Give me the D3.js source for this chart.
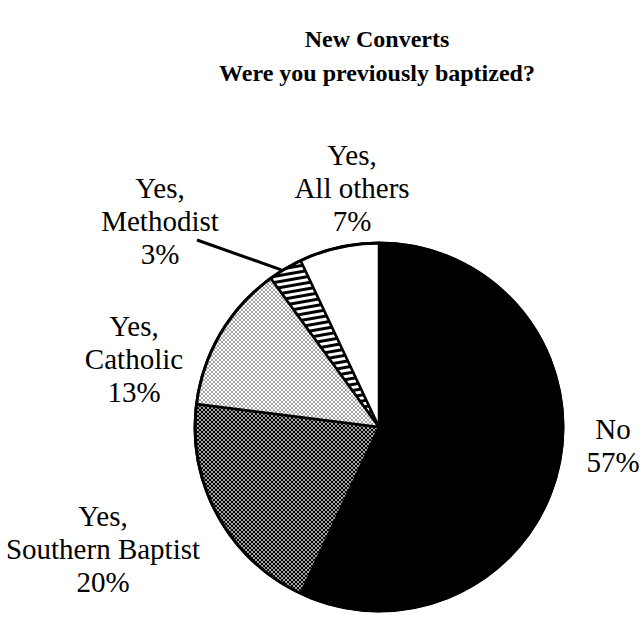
<!DOCTYPE html>
<html>
<head>
<meta charset="utf-8">
<script src="https://cdn.jsdelivr.net/npm/d3@7"></script>
<style>
  html, body { margin: 0; padding: 0; background: #fff; }
  svg { display: block; }
</style>
</head>
<body>
<svg id="chart" width="643" height="627"></svg>
<script>
// Survey answers, clockwise from 12 o'clock
const categories = ["No", "Yes, Southern Baptist", "Yes, Catholic", "Yes, Methodist", "Yes, All others"];
const percents = [57, 20, 13, 3, 7];
const labelLines = [
  ["No"],
  ["Yes,", "Southern Baptist"],
  ["Yes,", "Catholic"],
  ["Yes,", "Methodist"],
  ["Yes,", "All others"]
];
const fills = ["#000", "url(#densedots)", "url(#lightdots)", "url(#stripes)", "#fff"];

// Label anchor points (centre x, first baseline y)
const labelAnchor = [
  [613, 439], [103, 526], [134, 336], [160, 198], [352, 165]
];

const SERIF = "'Liberation Serif', 'Times New Roman', 'DejaVu Serif', serif";

const svg = d3.select("#chart");
const cx = 379, cy = 427, r = 184;

// Fill patterns
const defs = svg.append("defs");
const dense = defs.append("pattern").attr("id", "densedots")
  .attr("width", 4).attr("height", 4).attr("patternUnits", "userSpaceOnUse");
dense.append("rect").attr("width", 4).attr("height", 4).attr("fill", "#000");
dense.append("rect").attr("x", 0.2).attr("y", 0.2).attr("width", 1.6).attr("height", 1.6).attr("fill", "#fff");
dense.append("rect").attr("x", 2.2).attr("y", 2.2).attr("width", 1.6).attr("height", 1.6).attr("fill", "#fff");

const light = defs.append("pattern").attr("id", "lightdots")
  .attr("width", 4).attr("height", 4).attr("patternUnits", "userSpaceOnUse");
light.append("rect").attr("width", 4).attr("height", 4).attr("fill", "#fff");
light.append("rect").attr("x", 0.4).attr("y", 0.4).attr("width", 1.2).attr("height", 1.2).attr("fill", "#000");
light.append("rect").attr("x", 2.4).attr("y", 2.4).attr("width", 1.2).attr("height", 1.2).attr("fill", "#000");

const stripes = defs.append("pattern").attr("id", "stripes")
  .attr("width", 8).attr("height", 6).attr("patternUnits", "userSpaceOnUse")
  .attr("patternTransform", "rotate(-10)");
stripes.append("rect").attr("width", 8).attr("height", 6).attr("fill", "#fff");
stripes.append("rect").attr("y", 0).attr("width", 8).attr("height", 3).attr("fill", "#000");

// Title
const title = svg.append("text")
  .attr("text-anchor", "middle")
  .attr("font-family", SERIF)
  .attr("font-weight", "bold")
  .attr("font-size", 24);
title.append("tspan").attr("x", 377).attr("y", 47).text("New Converts");
title.append("tspan").attr("x", 377).attr("y", 81).text("Were you previously baptized?");

// Pie
const data = categories.map((c, i) => ({ cat: c, value: percents[i], fill: fills[i], i }));
const pie = d3.pie().value(d => d.value).sort(null).startAngle(0).endAngle(2 * Math.PI);
const arc = d3.arc().innerRadius(0).outerRadius(r);
const arcs = pie(data);

const g = svg.append("g").attr("transform", `translate(${cx},${cy})`);
g.selectAll("path.slice")
  .data(arcs)
  .join("path")
  .attr("class", "slice")
  .attr("d", arc)
  .attr("fill", d => d.data.fill)
  .attr("stroke", "#000")
  .attr("stroke-width", 2.5)
  .attr("stroke-linejoin", "round");

g.append("circle").attr("r", r).attr("fill", "none").attr("stroke", "#000").attr("stroke-width", 3);

// Leader line for the thin Methodist slice
const meth = arcs[3];
const mid = (meth.startAngle + meth.endAngle) / 2;
const edge = [Math.sin(mid) * (r + 2), -Math.cos(mid) * (r + 2)];
g.append("line")
  .attr("x1", 197 - cx).attr("y1", 240 - cy)
  .attr("x2", edge[0] - 3).attr("y2", edge[1] + 3)
  .attr("stroke", "#000").attr("stroke-width", 3);

// Labels
const lineGap = 33;
data.forEach((d, i) => {
  const [lx, ly] = labelAnchor[i];
  const t = svg.append("text")
    .attr("text-anchor", "middle")
    .attr("font-family", SERIF)
    .attr("font-size", 29);
  const lines = labelLines[i].concat([d.value + "%"]);
  lines.forEach((s, k) => {
    t.append("tspan").attr("x", lx).attr("y", ly + k * lineGap).text(s);
  });
});
</script>
</body>
</html>
